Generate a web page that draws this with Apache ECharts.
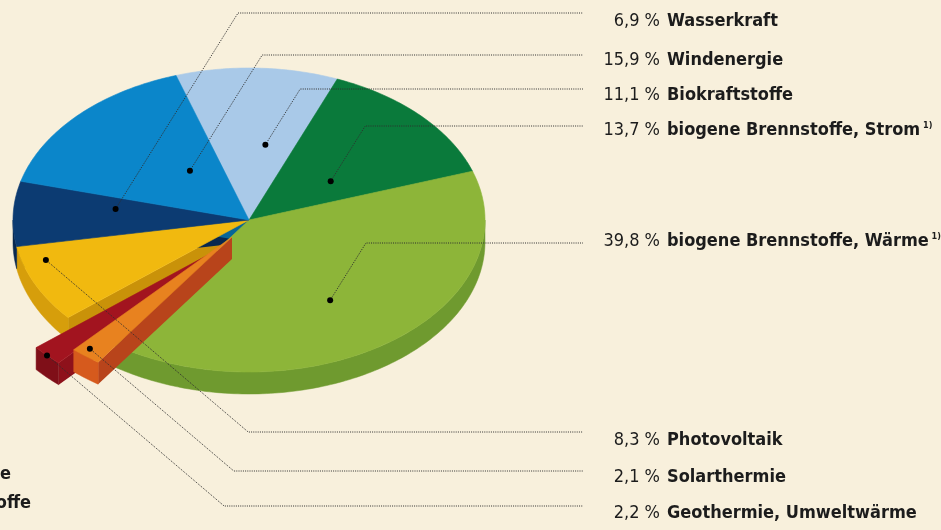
<!DOCTYPE html>
<html>
<head>
<meta charset="utf-8">
<script src="https://cdn.jsdelivr.net/npm/echarts@6/dist/echarts.min.js"></script>
<style>
  html, body { margin: 0; padding: 0; background: #f8f0dc; }
  #chart { width: 941px; height: 530px; }
</style>
</head>
<body>
<div id="chart"></div>
<script>
// Anteile (Prozent), im Uhrzeigersinn ab der Oberkante
const names = ['Biokraftstoffe', 'biogene Brennstoffe, Strom', 'biogene Brennstoffe, Wärme', 'Solarthermie',
  'Geothermie, Umweltwärme', 'Photovoltaik', 'Wasserkraft', 'Windenergie']
const values = [11.1, 13.7, 39.8, 2.1, 2.2, 8.3, 6.9, 15.9]
const footnote = [false, true, true, false, false, false, false, false]
// Zeile der Beschriftung rechts (0 = oben)
const labelRow = [2, 3, 4, 6, 7, 5, 0, 1]

;(function () {
  let myChart = echarts.init(document.getElementById('chart'))

  // Farben: Oberseite, Rand, Schnittfläche
  const topColor = ['#a9c9e8', '#0a7a3b', '#8db539', '#e8821f', '#a2141f', '#f1b90f', '#0c3b72', '#0b86ca']
  const sideColor = ['#8aaed0', '#06602d', '#6f9a2f', '#d65a1d', '#7f0f18', '#d69e0b', '#08284f', '#076698']
  const faceColor = ['#8aaed0', '#06602d', '#6f9a2f', '#b8441b', '#8e111b', '#c99209', '#08284f', '#076698']
  const explode = [[0, 0], [0, 0], [0, 0], [-17, 17], [-32, 30], [0, 0], [0, 0], [0, 0]]
  const zBase = [0, 0, 0, 6, 3, 0, 0, 0]
  // Punkt der Beschriftung: Anteil des Radius, Winkelversatz
  const anchor = [[0.5, 6], [0.43, 7], [0.63, 4], [0.95, 1], [1.0, 0], [0.9, 8], [0.57, 5], [0.41, 9]]
  const rowLineY = [13, 55, 89, 126, 243, 432, 471, 506]
  const rowTextY = [21, 60, 95, 130, 241, 440, 477, 513]

  const cx = 249, cy = 220, rx = 236, ry = 152, depth = 22, start = -108
  const font = "'DejaVu Sans Condensed', 'Liberation Sans Narrow', sans-serif"

  const total = values.reduce((a, b) => a + b, 0)
  const startAngle = []
  let acc = 0
  values.forEach(v => { startAngle.push(start + acc / total * 360); acc += v })

  function P(ox, oy, deg, k, dy) {
    const t = deg * Math.PI / 180
    return [cx + ox + rx * k * Math.cos(t), cy + oy + ry * k * Math.sin(t) + (dy || 0)]
  }
  function arc(ox, oy, a, b, dy) {
    const pts = []
    const n = Math.max(2, Math.ceil(Math.abs(b - a)))
    for (let i = 0; i <= n; i++) pts.push(P(ox, oy, a + (b - a) * i / n, 1, dy))
    return pts
  }
  const cos = d => Math.cos(d * Math.PI / 180)

  function renderItem(params, api) {
    const i = params.dataIndex
    const v = api.value(0)
    const a0 = startAngle[i], a1 = a0 + v / total * 360
    const ox = explode[i][0], oy = explode[i][1]
    const z = zBase[i]
    const c = [cx + ox, cy + oy]
    const children = []

    // Schnittflächen
    const faces = []
    if (cos(a0) < 0) faces.push(a0)
    if (cos(a1) > 0) faces.push(a1)
    faces.forEach(a => {
      const e = P(ox, oy, a, 1)
      children.push({
        type: 'polygon', z2: z,
        shape: { points: [c, e, [e[0], e[1] + depth], [c[0], c[1] + depth]] },
        style: { fill: faceColor[i] }
      })
    })
    // vorderer Rand
    const s = Math.max(a0, 0), e = Math.min(a1, 180)
    if (s < e) {
      children.push({
        type: 'polygon', z2: z + 1,
        shape: { points: arc(ox, oy, s, e, 0).concat(arc(ox, oy, e, s, depth)) },
        style: { fill: sideColor[i], stroke: sideColor[i], lineWidth: 0.5 }
      })
    }
    // Oberseite
    children.push({
      type: 'polygon', z2: z + 2,
      shape: { points: [c].concat(arc(ox, oy, a0, a1, 0)) },
      style: { fill: topColor[i], stroke: topColor[i], lineWidth: 0.6 }
    })

    // Beschriftung
    const mid = (a0 + a1) / 2 + anchor[i][1]
    const dot = P(ox, oy, mid, anchor[i][0])
    const row = labelRow[i]
    const ly = rowLineY[row]
    const bx = ly < dot[1] ? dot[0] + (dot[1] - ly) / 1.6 : dot[0] + (ly - dot[1]) / 0.85
    children.push({
      type: 'polyline', z2: 20,
      shape: { points: [dot, [bx, ly], [583, ly]] },
      style: { stroke: '#2e2e2e', lineWidth: 1, lineDash: [1, 1.2], fill: null }
    })
    children.push({
      type: 'circle', z2: 21,
      shape: { cx: dot[0], cy: dot[1], r: 3 },
      style: { fill: '#000' }
    })
    children.push({
      type: 'text', z2: 21, x: 660, y: rowTextY[row],
      style: {
        text: v.toFixed(1).replace('.', ',') + ' %',
        fill: '#1c1c1c', fontSize: 18, fontFamily: font,
        align: 'right', verticalAlign: 'middle'
      }
    })
    children.push({
      type: 'text', z2: 21, x: 667, y: rowTextY[row],
      style: {
        text: '{n|' + names[i] + '}' + (footnote[i] ? '{s| 1)}' : ''),
        align: 'left', verticalAlign: 'middle',
        rich: {
          n: { fontSize: 18, fontWeight: 'bold', fontFamily: font, fill: '#1c1c1c' },
          s: { fontSize: 9, fontWeight: 'bold', fontFamily: font, fill: '#1c1c1c', verticalAlign: 'top' }
        }
      }
    })
    return { type: 'group', children: children }
  }

  let option = {
    backgroundColor: '#f8f0dc',
    animation: false,
    graphic: [
      { type: 'text', x: 11, y: 474, style: { text: 'e', align: 'right', verticalAlign: 'middle', fontSize: 18, fontWeight: 'bold', fontFamily: font, fill: '#1c1c1c' } },
      { type: 'text', x: 31, y: 503, style: { text: 'offe', align: 'right', verticalAlign: 'middle', fontSize: 18, fontWeight: 'bold', fontFamily: font, fill: '#1c1c1c' } }
    ],
    series: [
      {
        type: 'custom',
        coordinateSystem: 'none',
        renderItem: renderItem,
        data: values
      }
    ]
  }

  myChart.setOption(option)
})()
</script>
</body>
</html>
